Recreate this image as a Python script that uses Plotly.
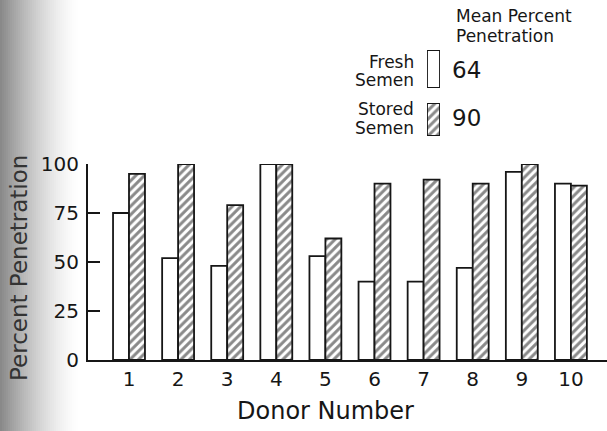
import plotly.graph_objects as go

# Percent penetration per donor
donors = [1, 2, 3, 4, 5, 6, 7, 8, 9, 10]
fresh_semen = [75, 52, 48, 100, 53, 40, 40, 47, 96, 90]
stored_semen = [95, 100, 79, 100, 62, 90, 92, 90, 100, 89]
mean_fresh = 64
mean_stored = 90
y_ticks = [0, 25, 50, 75, 100]

W, H = 607, 431
ML, MB = 88, 71
PW, PH = W - ML, H - MB          # plot width/height in px (top margin 0)


def px_x(px):
    return (px - ML) / PW


def px_y(py):
    return (PH - py) / PH


FONT = "DejaVu Sans"
INK = "#161616"
hatch = dict(shape="/", fgcolor=INK, bgcolor="white", size=6, solidity=0.5)

fig = go.Figure()
fig.add_trace(go.Bar(x=donors, y=fresh_semen, name="Fresh Semen",
                     marker=dict(color="white", line=dict(color=INK, width=1.8))))
fig.add_trace(go.Bar(x=donors, y=stored_semen, name="Stored Semen",
                     marker=dict(color="white", pattern=hatch,
                                 line=dict(color=INK, width=1.8))))

# key swatches drawn as single bars on small inset axes
fig.add_trace(go.Bar(x=[0], y=[1], width=[1], xaxis="x2", yaxis="y2",
                     marker=dict(color="white", line=dict(color=INK, width=1.8)),
                     showlegend=False, hoverinfo="skip"))
fig.add_trace(go.Bar(x=[0], y=[1], width=[1], xaxis="x3", yaxis="y3",
                     marker=dict(color="white", pattern=hatch,
                                 line=dict(color=INK, width=1.8)),
                     showlegend=False, hoverinfo="skip"))

main_top = px_y(164)
inset = dict(range=[-0.5, 0.5], visible=False, fixedrange=True)
inset_y = dict(range=[0, 1], visible=False, fixedrange=True)

fig.update_layout(
    width=W, height=H,
    margin=dict(l=ML, r=0, t=0, b=MB, autoexpand=False),
    paper_bgcolor="white", plot_bgcolor="white",
    showlegend=False,
    barmode="group", bargap=0.35, bargroupgap=0,
    font=dict(family=FONT, color=INK),
    xaxis=dict(range=[0.165, 10.735], tickvals=donors,
               ticktext=[str(d) for d in donors],
               showgrid=False, zeroline=False, showline=True,
               linecolor=INK, linewidth=2, ticks="",
               tickfont=dict(size=20, family=FONT, color=INK)),
    yaxis=dict(domain=[0, main_top], range=[0, 100], tickvals=y_ticks,
               showgrid=False, zeroline=False, showline=True,
               linecolor=INK, linewidth=2, ticks="inside", ticklen=12,
               tickwidth=1.6, tickcolor=INK, ticklabelstandoff=3,
               tickfont=dict(size=20, family=FONT, color=INK)),
    xaxis2=dict(domain=[px_x(427), px_x(440)], anchor="y2", **inset),
    yaxis2=dict(domain=[px_y(88), px_y(50)], anchor="x2", **inset_y),
    xaxis3=dict(domain=[px_x(427), px_x(440)], anchor="y3", **inset),
    yaxis3=dict(domain=[px_y(136), px_y(103)], anchor="x3", **inset_y),
)

# soft grey shading along the left edge of the page
steps = 40
for i in range(steps):
    x0 = i * 2
    t = 1 - (x0 + 1) / (steps * 2)
    g = int(round(255 - 120 * t ** 1.5))
    fig.add_shape(type="rect", xref="paper", yref="paper",
                  x0=px_x(x0), x1=px_x(x0 + 2), y0=px_y(H), y1=1,
                  fillcolor=f"rgb({g},{g},{g})", line=dict(width=0),
                  layer="below")

ann = [
    dict(text="Percent Penetration", x=px_x(19), y=px_y(268), textangle=-90,
         font=dict(size=23, color="#333333"), xanchor="center", yanchor="middle"),
    dict(text="Donor Number", x=px_x(325), y=px_y(411),
         font=dict(size=24), xanchor="center", yanchor="middle"),
    dict(text="Mean Percent", x=px_x(454), y=px_y(16),
         font=dict(size=17), xanchor="left", yanchor="middle"),
    dict(text="Penetration", x=px_x(454), y=px_y(36),
         font=dict(size=17), xanchor="left", yanchor="middle"),
    dict(text="Fresh", x=px_x(416), y=px_y(62),
         font=dict(size=17), xanchor="right", yanchor="middle"),
    dict(text="Semen", x=px_x(416), y=px_y(80),
         font=dict(size=17), xanchor="right", yanchor="middle"),
    dict(text="Stored", x=px_x(416), y=px_y(109),
         font=dict(size=17), xanchor="right", yanchor="middle"),
    dict(text="Semen", x=px_x(416), y=px_y(128),
         font=dict(size=17), xanchor="right", yanchor="middle"),
    dict(text=str(mean_fresh), x=px_x(450), y=px_y(70),
         font=dict(size=23), xanchor="left", yanchor="middle"),
    dict(text=str(mean_stored), x=px_x(450), y=px_y(118),
         font=dict(size=23), xanchor="left", yanchor="middle"),
]
for a in ann:
    fig.add_annotation(xref="paper", yref="paper", showarrow=False, **a)

fig.write_html("out.html")
